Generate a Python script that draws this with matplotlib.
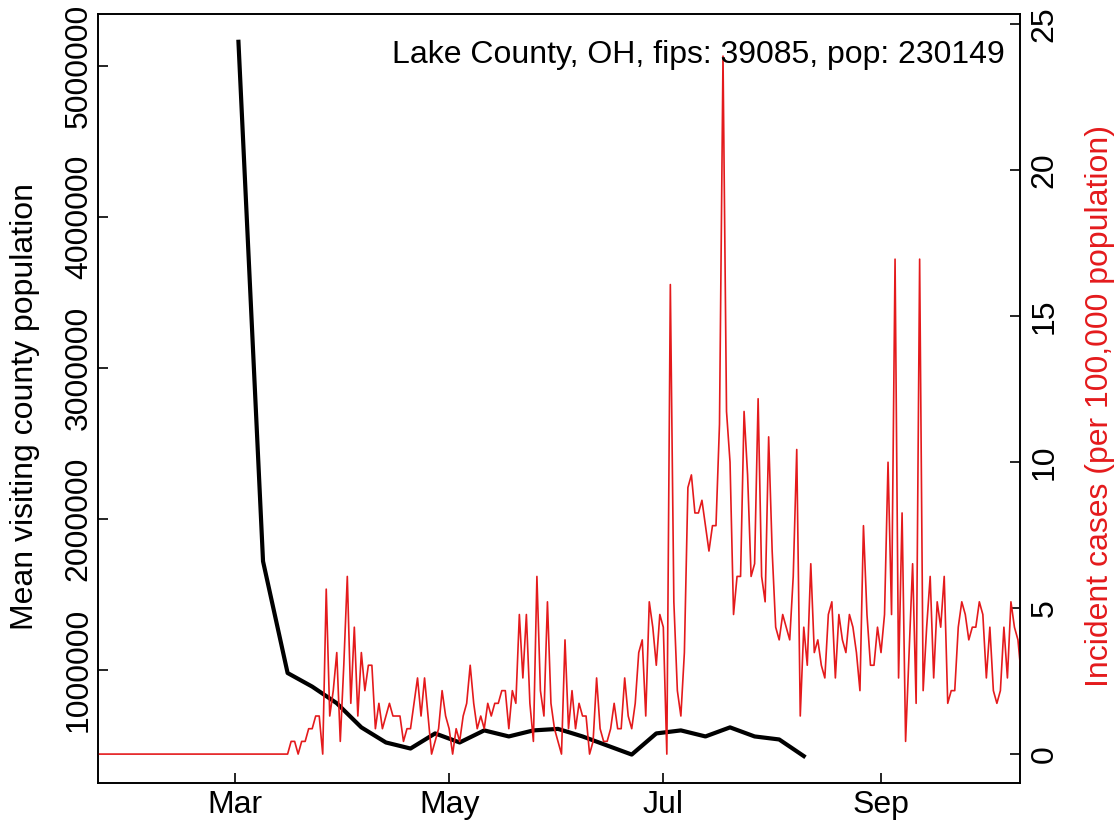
import matplotlib
matplotlib.use("Agg")
import matplotlib.pyplot as plt
import pandas as pd

plt.rcParams["font.family"] = ["Liberation Sans", "DejaVu Sans"]

COUNTY = "Lake County, OH"
FIPS = "39085"
POP = 230149
RED = "#E41A1C"

# weekly mean visiting county population, first week starts 2 Mar 2020
visit_start = "2020-03-02"
visit_pop = [
    5160000, 1720000, 980000, 890000, 780000, 620000, 520000, 480000,
    580000, 520000, 600000, 560000, 600000, 610000, 560000, 500000,
    440000, 580000, 600000, 560000, 620000, 560000, 540000, 430000,
]

# daily new case counts, first day 22 Jan 2020
case_start = "2020-01-22"
daily_cases = [
    0, 0, 0, 0, 0, 0, 0, 0, 0, 0,
    0, 0, 0, 0, 0, 0, 0, 0, 0, 0,
    0, 0, 0, 0, 0, 0, 0, 0, 0, 0,
    0, 0, 0, 0, 0, 0, 0, 0, 0, 0,
    0, 0, 0, 0, 0, 0, 0, 0, 0, 0,
    0, 0, 0, 0, 0,
    1, 1, 0, 1, 1, 2, 2, 3, 3, 0,
    13, 3, 5, 8, 1, 7, 14, 4, 10, 3,
    8, 5, 7, 7, 2, 4, 2, 3, 4, 3,
    3, 3, 1, 2, 2, 4, 6, 3, 6, 3,
    0, 1, 2, 5, 3, 2, 0, 2, 1, 3,
    4, 7, 4, 2, 3, 2, 4, 3, 4, 4,
    5, 5, 2, 5, 4, 11, 6, 11, 4, 1,
    14, 5, 3, 12, 4, 2, 1, 0, 9, 2,
    5, 2, 4, 3, 3, 0, 1, 6, 2, 1,
    1, 2, 4, 2, 2, 6, 3, 2, 4, 8,
    9, 3, 12, 10, 7, 11, 10, 0, 37, 12,
    5, 3, 8, 21, 22, 19, 19, 20, 18, 16,
    18, 18, 26, 55, 27, 23, 11, 14, 14, 27,
    22, 14, 15, 28, 14, 12, 25, 16, 10, 9,
    11, 10, 9, 14, 24, 3, 10, 7, 15, 8,
    9, 7, 6, 11, 12, 6, 11, 9, 8, 11,
    10, 8, 5, 18, 11, 7, 7, 10, 8, 11,
    23, 11, 39, 6, 19, 1, 8, 15, 4, 39,
    5, 10, 14, 6, 12, 10, 14, 4, 5, 5,
    10, 12, 11, 9, 10, 10, 12, 11, 6, 10,
    5, 4, 5, 10, 6, 12, 10, 9, 6,
]

month_ticks = ["2020-03-01", "2020-05-01", "2020-07-01", "2020-09-01"]
month_labels = ["Mar", "May", "Jul", "Sep"]
left_ticks = [1000000, 2000000, 3000000, 4000000, 5000000]
right_ticks = [0, 5, 10, 15, 20, 25]

visit_dates = pd.date_range(visit_start, periods=len(visit_pop), freq="7D")
case_dates = pd.date_range(case_start, periods=len(daily_cases), freq="D")
incid = [c * 100000 / POP for c in daily_cases]

fig = plt.figure(figsize=(11.19, 8.26), dpi=100)
ax1 = fig.add_axes([98 / 1119, 43 / 826, 922 / 1119, 769 / 826])
ax2 = ax1.twinx()

ax1.plot(visit_dates, visit_pop, color="black", linewidth=3.0, solid_joinstyle="round")
ax2.plot(case_dates, incid, color=RED, linewidth=1.2)

ax1.set_xlim(pd.Timestamp("2020-01-22"), pd.Timestamp("2020-10-10 14:00"))
ax1.set_ylim(251700, 5344000)
ax2.set_ylim(-0.99, 25.34)

fs = 23
ax1.set_xticks(pd.to_datetime(month_ticks))
ax1.set_xticklabels(month_labels, fontsize=fs)
ax1.set_yticks(left_ticks)
ax1.set_yticklabels([str(v) for v in left_ticks], fontsize=fs, rotation=90, va="center")
ax2.set_yticks(right_ticks)
ax2.set_yticklabels([str(v) for v in right_ticks], fontsize=fs, rotation=90, va="center")

ax1.tick_params(axis="x", direction="in", length=7, width=1.2, pad=5)
ax1.tick_params(axis="y", direction="in", length=7, width=1.2, pad=3)
ax2.tick_params(axis="y", direction="in", length=7, width=1.2, pad=7)

for ax in (ax1, ax2):
    for s in ax.spines.values():
        s.set_linewidth(1.2)
        s.set_color("black")

ax1.set_ylabel("Mean visiting county population", fontsize=fs, va="center")
ax1.yaxis.set_label_coords(-0.079, 0.49)
ax2.set_ylabel("Incident cases (per 100,000 population)", fontsize=fs, color=RED, va="center")
ax2.yaxis.set_label_coords(1.087, 0.49)

ax2.text(0.984, 0.947, f"{COUNTY}, fips: {FIPS}, pop: {POP}", transform=ax2.transAxes,
         ha="right", va="center", fontsize=fs)

fig.savefig("out.png", dpi=100)
